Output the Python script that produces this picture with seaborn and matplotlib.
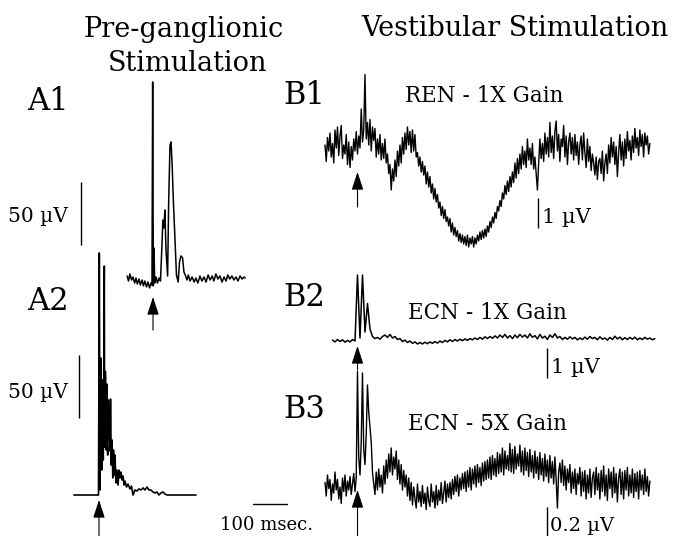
import numpy as np
import pandas as pd
import matplotlib
matplotlib.use("Agg")
import matplotlib.pyplot as plt
import matplotlib.transforms as mtransforms
import seaborn as sns

# ------------------------------------------------------------------ data
# A1 : pre-ganglionic stimulation, trace 1 (time in ms from stimulus, amplitude in uV)
A1_TIME_MS = [-76, -72, -68, -63, -59, -54, -50, -46, -41, -37, -32, -28, -24, -19, -15, -10, -6, -3,
              -1, 1, 3, 5, 9, 13, 18, 22, 26, 29, 32, 35, 38, 43, 46, 50, 53, 56, 60, 65, 69, 74,
              78, 82, 87, 91, 96, 100, 104, 109, 115, 121, 126, 132, 138, 144, 150, 156, 162, 168,
              174, 179, 185, 191, 197, 203, 209, 215, 220, 226, 232, 238, 244, 250, 256, 262, 268, 271]
A1_UV = [1.6, -2.4, 3.2, -1.6, 0.8, -4.0, 0.0, -4.8, -0.8, -5.6, -1.6, -6.3, -2.4, -7.1, -3.2, -7.9, -4.0, -5.6,
         155.6, -6.3, 23.8, -4.0, 0.8, -4.0, 0.0, -2.4, 23.8, 46.0, 39.7, 54.0, 23.8, 1.6, 59.5, 105.6, 108.0, 92.1,
         60.3, 28.6, 2.4, -3.2, 12.7, 17.5, 15.9, 4.8, 1.6, -1.6, 2.4, -2.4, 0.8, -3.2, 0.0, -4.0, 1.6, -2.4,
         0.8, -3.2, 2.4, -1.6, 1.6, -2.4, 3.2, -0.8, 1.6, -3.2, 0.8, -2.4, 2.4, -0.8, 1.6, -1.6, 0.8, -2.4,
         1.6, -0.8, 0.8, 0.0]

# A2 : pre-ganglionic stimulation, trace 2
A2_TIME_MS = [-74, -56, -38, -21, -1.5, 0.9, 2.9, 4.4, 5.9, 7.0, 8.2, 9.2, 10.3, 11.5, 12.6, 14.0, 15.6,
              16.6, 17.6, 18.7, 19.7, 20.6, 21.5, 22.5, 23.5, 24.6, 25.6, 26.5, 27.3, 28.4, 29.4, 30.5,
              31.5, 32.6, 33.8, 35.9, 38.2, 40.6, 42.6, 45.0, 47.0, 50.0, 52.9, 55.9, 58.8, 61.7,
              64.7, 67.6, 70.6, 73.5, 76.4, 80.9, 85.3, 91.1, 95.6, 100.0, 105.8, 111.7, 117.6, 123.5,
              129.4, 135.2, 141.1, 147.0, 152.9, 158.8, 164.6, 170.5, 176.4, 182.3, 188.2, 194.0,
              199.9, 223.4, 252.8, 285.2]
A2_UV = [0, 0, 0, 0, 0, 192.1, 4.0, 60.0, 108.7, 30.0, 19.8, 70.0, 91.3, 40.0, 27.8, 95.0, 181.7,
         38.0, 51.6, 98.0, 83.3, 45.0, 35.7, 88.0, 79.4, 40.0, 31.7, 70.0, 75.4, 50.0, 43.7, 72.0,
         67.5, 35.0, 76.2, 23.8, 43.7, 13.5, 35.7, 15.9, 31.7, 9.5, 19.8, 7.9, 19.8, 13.5,
         18.3, 11.9, 15.1, 7.9, 11.1, 6.3, 8.7, 4.8, 7.1, 0.0, 4.0, 3.2, 4.8, 4.0,
         5.6, 4.0, 6.3, 4.0, 4.0, 2.4, 1.6, 2.4, 0.0, 1.6, 2.4, 0.8,
         0, 0, 0, 0]

# B traces : vestibular stimulation, evenly sampled
B1_DT_MS = 3.675
B1_START_MS = -95.6
B1_UV = [0.1, -0.45, 0.35, -0.1, 0.5, -0.3, 0.15, -0.5, 0.6, 0.0,
         0.7, -0.25, 0.4, 0.75, -0.35, 0.1, -0.2, 0.45, -0.55, 0.2,
         -0.65, 0.05, -0.4, 0.3, -0.1, 0.55, -0.2, 0.4, 0.0, 1.3,
         0.2, 0.6, 2.45, 0.3, 0.85, 0.1, 0.95, -0.1, 0.7, 0.25,
         0.65, -0.3, 0.3, -0.2, 0.45, -0.4, 0.15, -0.35, 0.3, -0.5,
         -0.2, -0.85, -0.55, -1.4, -0.7, -1.1, -0.4, -0.95, -0.1, -0.6,
         0.1, -0.5, 0.35, -0.2, 0.5, -0.05, 0.7, 0.1, 0.55, -0.15,
         0.6, -0.1, 0.45, -0.3, -0.15, -0.6, -0.3, -0.8, -0.45, -0.9,
         -0.6, -1.2, -0.8, -1.3, -0.95, -1.5, -1.2, -1.7, -1.35, -1.8,
         -1.55, -2.0, -1.8, -2.25, -1.95, -2.35, -2.05, -2.45, -2.3, -2.6,
         -2.35, -2.8, -2.5, -2.9, -2.65, -2.95, -2.75, -3.1, -2.85, -3.15,
         -2.9, -3.2, -2.95, -3.25, -2.9, -3.3, -3.0, -3.2, -2.95, -3.3,
         -3.0, -3.2, -2.9, -3.1, -2.8, -3.05, -2.75, -3.0, -2.7, -2.95,
         -2.6, -2.8, -2.45, -2.65, -2.3, -2.5, -2.15, -2.35, -1.95, -2.1,
         -1.75, -1.95, -1.5, -1.7, -1.25, -1.55, -1.1, -1.45, -0.95, -1.3,
         -0.8, -1.15, -0.5, -1.0, -0.35, -0.85, -0.2, -0.7, 0.05, -0.55,
         -0.1, -0.65, 0.3, -0.4, 0.0, -0.55, 0.15, -0.7, -0.3, -0.85,
         -1.4, -0.5, 0.3, -0.35, 0.15, -0.45, 0.5, -0.2, 0.35, -0.3,
         0.85, -0.15, 0.4, -0.35, 0.55, 0.9, -0.1, 0.45, -0.45, 0.3,
         0.05, 0.75, -0.3, 0.4, -0.55, 0.2, 0.5, -0.2, 0.35, -0.4,
         0.45, -0.25, 0.2, -0.55, 0.1, 0.4, -0.4, 0.5, -0.15, -0.65,
         0.3, -0.45, 0.05, -0.75, -0.2, -0.5, -0.9, -0.3, -1.05, -0.45,
         -0.35, -0.85, -0.1, -1.1, -0.5, -0.2, -0.85, 0.1, -0.5, 0.35,
         -0.3, 0.2, -0.55, 0.05, -0.95, -0.15, 0.45, -0.4, 0.2, -0.6,
         0.3, -0.35, 0.55, -0.1, 0.25, -0.4, 0.4, -0.15, 0.65, 0.0,
         0.35, -0.25, 0.6, 0.05, 0.45, -0.3, 0.5, 0.1, 0.4, -0.2, 0.15]

B2_DT_MS = 7.35
B2_START_MS = -73.5
B2_UV = [0.03, -0.03, 0.05, -0.02, 0.04, -0.04, 0.02, -0.03, 0.05, 0.0,
         2.2, 0.1, 2.2, 0.3, 1.25, 0.4, 0.15, 0.08, 0.12, 0.06,
         0.15, 0.2, 0.12, 0.22, 0.1, 0.15, 0.05, 0.08, -0.02, 0.03,
         -0.05, 0.0, -0.08, -0.03, -0.1, -0.05, -0.1, -0.04, -0.09, -0.03,
         -0.08, -0.02, -0.07, 0.0, -0.05, 0.02, -0.03, 0.04, -0.02, 0.05,
         0.0, 0.06, 0.01, 0.07, 0.02, 0.08, 0.04, 0.1, 0.05, 0.12,
         0.06, 0.14, 0.08, 0.15, 0.09, 0.17, 0.1, 0.2, 0.12, 0.22,
         0.1, 0.18, 0.08, 0.2, 0.11, 0.22, 0.13, 0.2, 0.1, 0.24,
         0.12, 0.18, 0.07, 0.22, 0.1, 0.16, 0.05, 0.2, 0.12, 0.24,
         0.1, 0.15, 0.05, 0.12, 0.06, 0.14, 0.07, 0.12, 0.04, 0.1,
         0.05, 0.13, 0.06, 0.15, 0.08, 0.12, 0.04, 0.14, 0.06, 0.1,
         0.03, 0.12, 0.05, 0.16, 0.07, 0.13, 0.04, 0.11, 0.05, 0.12,
         0.06, 0.13, 0.04, 0.1, 0.05, 0.12, 0.06, 0.1, 0.04, 0.08]

B3_DT_MS = 3.675
B3_START_MS = -95.6
B3_UV = [0.03, -0.06, 0.08, -0.01, 0.05, -0.09, 0.02, -0.04, 0.1, -0.02,
         0.05, -0.08, 0.0, -0.11, 0.06, -0.03, 0.08, -0.06, 0.04, -0.02,
         0.07, -0.05, 0.02, 0.09, -0.03, 0.06, 0.77, 0.2, 0.08, 0.3,
         0.76, 0.25, 0.15, 0.35, 0.68, 0.5, 0.4, 0.3, 0.1, 0.02,
         -0.05, 0.1, -0.02, 0.12, 0.0, 0.08, -0.04, 0.14, 0.02, 0.18,
         0.06, 0.22, 0.1, 0.26, 0.08, 0.2, 0.12, 0.24, 0.05, 0.18,
         0.02, 0.15, -0.02, 0.11, 0.0, 0.08, -0.06, 0.06, -0.09, 0.03,
         -0.12, 0.0, -0.08, -0.14, 0.02, -0.1, -0.03, -0.13, 0.01, -0.11,
         -0.04, -0.15, 0.0, -0.09, -0.13, 0.02, -0.1, -0.03, -0.14, 0.01,
         -0.12, -0.02, -0.09, 0.03, -0.11, -0.04, 0.04, -0.1, 0.02, -0.07,
         0.03, -0.08, 0.05, -0.05, 0.07, -0.03, 0.08, -0.06, 0.06, -0.02,
         0.09, -0.01, 0.1, -0.03, 0.11, 0.0, 0.13, -0.02, 0.12, 0.02,
         0.14, 0.0, 0.15, 0.03, 0.13, 0.01, 0.16, 0.04, 0.17, 0.05,
         0.18, 0.06, 0.2, 0.05, 0.21, 0.08, 0.19, 0.07, 0.23, 0.09,
         0.22, 0.1, 0.26, 0.08, 0.24, 0.12, 0.21, 0.11, 0.29, 0.1,
         0.25, 0.09, 0.27, 0.12, 0.22, 0.14, 0.28, 0.1, 0.24, 0.08,
         0.26, 0.11, 0.23, 0.07, 0.25, 0.1, 0.21, 0.06, 0.24, 0.09,
         0.2, 0.05, 0.23, 0.08, 0.19, 0.04, 0.22, 0.07, 0.18, 0.03,
         0.21, 0.06, 0.17, 0.02, 0.2, 0.05, -0.14, 0.1, 0.16, 0.03,
         0.18, 0.01, 0.14, -0.02, 0.12, 0.03, 0.15, -0.04, 0.1, -0.01,
         0.12, -0.05, 0.09, 0.02, 0.13, -0.06, 0.1, -0.03, 0.11, -0.08,
         0.08, -0.04, 0.12, -0.07, 0.06, 0.1, -0.05, 0.13, -0.02, 0.09,
         -0.08, 0.11, -0.03, 0.14, -0.06, 0.08, -0.09, 0.12, -0.01, 0.1,
         -0.07, 0.13, -0.04, 0.09, -0.1, 0.06, 0.12, -0.05, 0.1, -0.08,
         0.11, -0.02, 0.13, -0.06, 0.08, -0.04, 0.12, -0.07, 0.09, -0.03,
         0.1, -0.08, 0.11, -0.02, 0.08, -0.05, 0.12, -0.03, 0.07, -0.06, 0.04]

SCALE_A_UV = 50
SCALE_B12_UV = 1
SCALE_B3_UV = 0.2
SCALE_T_MS = 100

# ------------------------------------------------------------------ layout
W, H = 683, 536
MS_PER_PX = 100 / 34.0

sns.set_style("white")
plt.rcParams["font.family"] = ["DejaVu Serif"]

fig = plt.figure(figsize=(W / 100, H / 100), dpi=100)
fig.patch.set_facecolor("white")


def fx(x):
    return x / W


def fy(y):
    return 1 - y / H


def trace_axes(stim_px, base_px, px_per_uv):
    ax = fig.add_axes([0, 0, 1, 1])
    ax.set_xlim(-stim_px * MS_PER_PX, (W - stim_px) * MS_PER_PX)
    ax.set_ylim((base_px - H) / px_per_uv, base_px / px_per_uv)
    ax.axis("off")
    ax.patch.set_alpha(0)
    return ax


def draw_trace(ax, t, v, lw=1.0):
    df = pd.DataFrame({"t": t, "v": v})
    sns.lineplot(data=df, x="t", y="v", ax=ax, color="black", linewidth=lw,
                 estimator=None, sort=False, legend=False)
    ax.set_xlabel("")
    ax.set_ylabel("")
    ax.axis("off")


def stim_arrow(ax, head_px, tail_px):
    ax.annotate("", xy=(0, fy(head_px)), xytext=(0, fy(tail_px)),
                xycoords=("data", "figure fraction"), textcoords=("data", "figure fraction"),
                arrowprops=dict(arrowstyle="-|>,head_length=0.55,head_width=0.18",
                                mutation_scale=20, color="black", lw=0.8,
                                shrinkA=0, shrinkB=0))


def vbar(ax, x_px, bottom_uv, length_uv):
    tr = mtransforms.blended_transform_factory(fig.transFigure, ax.transData)
    ax.plot([fx(x_px), fx(x_px)], [bottom_uv, bottom_uv + length_uv], color="black",
            lw=1.0, transform=tr, solid_capstyle="butt")


# A1
axA1 = trace_axes(153, 278, 1.26)
draw_trace(axA1, A1_TIME_MS, A1_UV, lw=1.1)
stim_arrow(axA1, 297, 330)
vbar(axA1, 81, (278 - 245) / 1.26, SCALE_A_UV)

# A2
axA2 = trace_axes(99, 495, 1.26)
draw_trace(axA2, A2_TIME_MS, A2_UV, lw=1.2)
stim_arrow(axA2, 500, 536)
vbar(axA2, 79, (495 - 418) / 1.26, SCALE_A_UV)

# B1
axB1 = trace_axes(357.5, 148, 30)
t_b1 = B1_START_MS + B1_DT_MS * np.arange(len(B1_UV))
draw_trace(axB1, t_b1, B1_UV, lw=1.0)
stim_arrow(axB1, 172, 207)
vbar(axB1, 538, (148 - 228) / 30, SCALE_B12_UV)

# B2
axB2 = trace_axes(357.5, 341, 30)
t_b2 = B2_START_MS + B2_DT_MS * np.arange(len(B2_UV))
draw_trace(axB2, t_b2, B2_UV, lw=1.1)
stim_arrow(axB2, 346, 370)
vbar(axB2, 547, (341 - 378) / 30, SCALE_B12_UV)

# B3
axB3 = trace_axes(357.5, 487, 150)
t_b3 = B3_START_MS + B3_DT_MS * np.arange(len(B3_UV))
draw_trace(axB3, t_b3, B3_UV, lw=1.0)
stim_arrow(axB3, 490, 536)
vbar(axB3, 547, (487 - 537) / 150, SCALE_B3_UV)

# time scale bar (100 ms)
trT = mtransforms.blended_transform_factory(axB3.transData, fig.transFigure)
t0 = (253 - 357.5) * MS_PER_PX
axB3.plot([t0, t0 + SCALE_T_MS], [fy(504), fy(504)], color="black", lw=1.0, transform=trT)

# ------------------------------------------------------------------ text
def label(x, y, s, size, ha="left"):
    fig.text(fx(x), fy(y), s, fontsize=size, ha=ha, va="baseline", color="black")


label(184, 37, "Pre-ganglionic", 19.5, ha="center")
label(188, 71, "Stimulation", 19.5, ha="center")
label(515, 36, "Vestibular Stimulation", 19.5, ha="center")

label(27, 110, "A1", 22)
label(27, 310, "A2", 22)
label(283, 104, "B1", 22)
label(283, 306, "B2", 22)
label(283, 418, "B3", 22)

label(8, 222, "50 \u00b5V", 14.5)
label(8, 398, "50 \u00b5V", 14.5)

label(405, 102, "REN - 1X Gain", 15.5)
label(408, 319, "ECN - 1X Gain", 15.5)
label(408, 430, "ECN - 5X Gain", 15.5)

label(542, 223, "1 \u00b5V", 15)
label(551, 373, "1 \u00b5V", 15)
label(550, 531, "0.2 \u00b5V", 14)
label(220, 530, "100 msec.", 13)

fig.savefig("out.png", dpi=100, facecolor="white")
